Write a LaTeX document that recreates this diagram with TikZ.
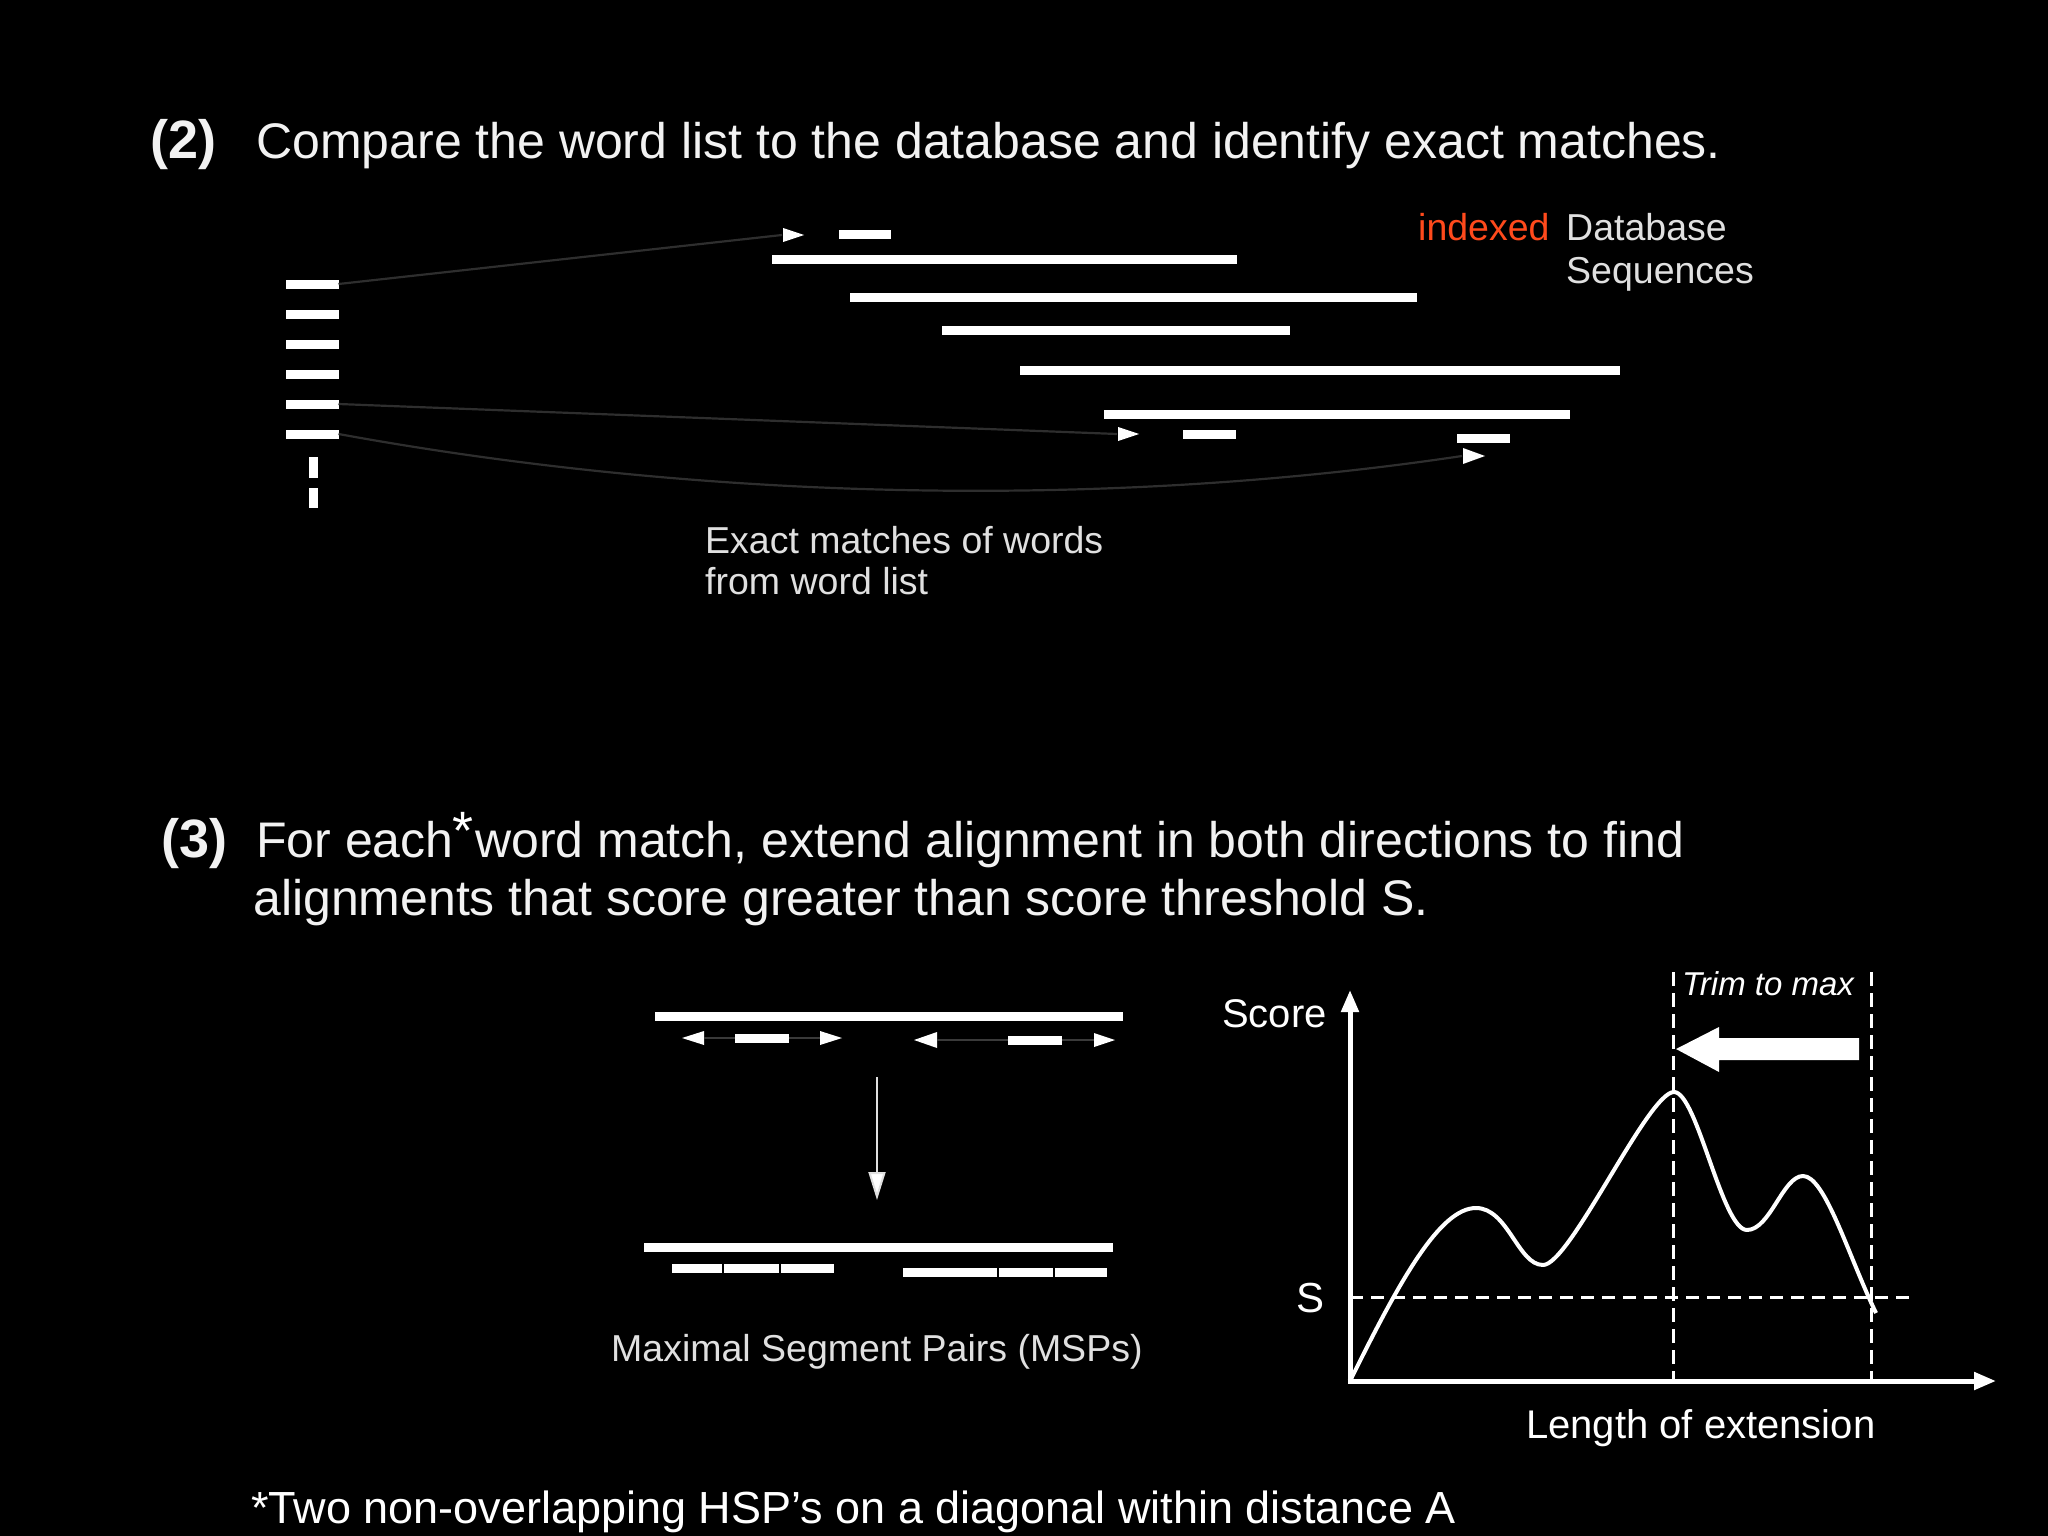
\documentclass[tikz,border=0pt]{standalone}
\usepackage{fontspec}
\setmainfont{Liberation Sans}
\usetikzlibrary{arrows.meta}
\definecolor{lgray}{HTML}{E0E0E0}
\definecolor{ttlc}{HTML}{F2F2F2}
\definecolor{orng}{HTML}{FF4A1C}
\definecolor{dline}{HTML}{2E2E2E}
\definecolor{mline}{HTML}{3A3A3A}
\tikzset{
  bar/.style={rectangle,fill=white,inner sep=0pt,outer sep=0pt,minimum height=9pt},
  lbl/.style={anchor=base west,inner sep=0pt,text=lgray,font=\fontsize{37.5}{45}\selectfont},
  ttl/.style={anchor=base west,inner sep=0pt,text=ttlc,font=\fontsize{50}{60}\selectfont},
  num/.style={anchor=base west,inner sep=0pt,text=ttlc,font=\fontsize{54}{60}\selectfont\bfseries},
  gtxt/.style={anchor=base west,inner sep=0pt,text=white,font=\fontsize{40}{48}\selectfont},
  conn/.style={draw=dline,line width=2.2pt},
  thin/.style={draw=mline,line width=1.5pt},
  axis/.style={draw=white,line width=5pt,-{Triangle[length=22pt,width=17pt]}},
  dsh/.style={draw=white,line width=3pt,dash pattern=on 14pt off 7pt},
}
\begin{document}
\begin{tikzpicture}[x=1pt,y=-1pt]
\fill[black] (0,0) rectangle (2048,1536);
\useasboundingbox (0,0) rectangle (2048,1536);

% ---------- (2) ----------
\node[num] (n2) at (150,158) {(2)};
\node[ttl] (t2) at (256,158) {Compare the word list to the database and identify exact matches.};

% word list
\foreach \i/\y in {1/284,2/314,3/344,4/374,5/404,6/434}
  \node[bar,minimum width=53pt] (w\i) at (312,\y) {};
\node[bar,minimum width=9pt,minimum height=21pt] (v1) at (313,467) {};
\node[bar,minimum width=9pt,minimum height=20pt] (v2) at (313,498) {};

% database sequences
\node[bar,minimum width=465pt] (s1) at (1004.5,259) {};
\node[bar,minimum width=567pt] (s2) at (1133.5,297) {};
\node[bar,minimum width=348pt] (s3) at (1116,330) {};
\node[bar,minimum width=600pt] (s4) at (1320,370) {};
\node[bar,minimum width=466pt] (s5) at (1337,414) {};

% matches
\fill[white] (783,228) -- (804,235) -- (783,242) -- cycle;
\coordinate (m1) at (782,235);
\node[bar,minimum width=52pt] (mb1) at (865,234) {};
\fill[white] (1118,427) -- (1139,434) -- (1118,441) -- cycle;
\coordinate (m2) at (1117,434);
\node[bar,minimum width=53pt] (mb2) at (1209.5,434.5) {};
\node[bar,minimum width=53pt] (mb3) at (1483.5,438) {};
\fill[white] (1463,448) -- (1485,456) -- (1463,464) -- cycle;
\coordinate (m3) at (1462,456);

% connectors
\draw[conn] (w1.east) -- (m1);
\draw[conn] (w5.east) -- (m2);
\draw[conn] (w6.east) .. controls (700,500) and (1100,510) .. (m3);

% labels
\node[anchor=base west,inner sep=0pt,text=orng,font=\fontsize{37.5}{45}\selectfont] (idx) at (1418,240) {indexed};
\node[lbl] (db1) at (1566,240) {Database};
\node[lbl] (db2) at (1566,283) {Sequences};
\node[lbl] (ex1) at (705,553) {Exact matches of words};
\node[lbl] (ex2) at (705,594) {from word list};

% ---------- (3) ----------
\node[num] (n3) at (161,857) {(3)};
\node[ttl] (t3a) at (256,857) {For each\hspace{-1pt}\raisebox{8pt}{\color{white}\fontsize{54}{60}\selectfont *}};
\node[ttl] (t3c) at (475,857) {word match, extend alignment in both directions to find};
\node[ttl] (t3b) at (253,915) {alignments that score greater than score threshold S.};

% extension diagram
\node[bar,minimum width=468pt] (q1) at (889,1016) {};
\fill[white] (704,1031) -- (682,1038) -- (704,1045) -- cycle;
\coordinate (lt1) at (704,1038);
\node[bar,minimum width=54pt] (a1) at (762,1038) {};
\fill[white] (820,1031) -- (842,1038) -- (820,1045) -- cycle;
\coordinate (rt1) at (820,1038);
\fill[white] (937,1032) -- (914,1040) -- (937,1048) -- cycle;
\coordinate (lt2) at (937,1040);
\node[bar,minimum width=54pt] (a2) at (1035,1040) {};
\fill[white] (1094,1033) -- (1115,1040) -- (1094,1047) -- cycle;
\coordinate (rt2) at (1094,1040);
\draw[thin] (lt1) -- (a1.west);
\draw[thin] (a1.east) -- (rt1);
\draw[thin] (lt2) -- (a2.west);
\draw[thin] (a2.east) -- (rt2);

\coordinate (arS) at (877,1077);
\coordinate (arE) at (877,1200);
\draw[draw=lgray,line width=2pt,-{Triangle[length=28pt,width=17pt,fill=white]}] (arS) -- (arE);

\node[bar,minimum width=469pt] (q2) at (878.5,1247) {};
\node[bar,minimum width=162pt] (p1) at (753,1268) {};
\node[bar,minimum width=204pt] (p2) at (1005,1272) {};
\draw[black,line width=1.5pt] (723,1262) -- (723,1274) (780,1262) -- (780,1274);
\draw[black,line width=1.5pt] (998,1266) -- (998,1278) (1054,1266) -- (1054,1278);
\node[lbl] (msp) at (611,1361) {Maximal Segment Pairs (MSPs)};

% ---------- graph ----------
\coordinate (O) at (1350,1381);
\coordinate (Ytip) at (1350,990);
\coordinate (Xtip) at (1996,1381);
\coordinate (v1t) at (1673,972);
\coordinate (v1b) at (1673,1381);
\coordinate (v2t) at (1871,972);
\coordinate (v2b) at (1871,1381);
\coordinate (hS) at (1350,1297);
\coordinate (hE) at (1912,1297);
\draw[dsh] (v1t) -- (v1b);
\draw[dsh] (v2t) -- (v2b);
\draw[white,line width=3pt,dash pattern=on 13pt off 8pt] (hS) -- (hE);
\draw[axis] ([yshift=2.5pt]O) -- (Ytip);
\draw[axis] ([xshift=-2.5pt]O) -- (Xtip);

\draw[white,line width=4pt,line join=round]
  (1351,1379) .. controls (1400,1280) and (1440,1208) .. (1476,1208)
  .. controls (1508,1208) and (1518,1265) .. (1543,1265)
  .. controls (1570,1265) and (1648,1092) .. (1674,1092)
  .. controls (1697,1092) and (1722,1230) .. (1747,1230)
  .. controls (1770,1230) and (1783,1176) .. (1803,1176)
  .. controls (1825,1176) and (1848,1255) .. (1876,1313);

\fill[white] (1676,1049) -- (1719,1027) -- (1719,1038) -- (1859,1038) -- (1859,1060) -- (1719,1060) -- (1719,1072) -- cycle;

\node[gtxt] (score) at (1222,1027) {Score};
\node[anchor=base west,inner sep=0pt,text=white,font=\fontsize{42}{48}\selectfont] (sl) at (1296,1312) {S};
\node[gtxt] (len) at (1526,1438) {Length of extension};
\node[anchor=base west,inner sep=0pt,text=white,font=\fontsize{33}{40}\selectfont\itshape] (trim) at (1682,995) {Trim to max};

% footer
\node[anchor=base west,inner sep=0pt,text=white,font=\fontsize{45}{54}\selectfont] (foot) at (251,1523) {*Two non-overlapping HSP’s on a diagonal within distance A};
\end{tikzpicture}
\end{document}
